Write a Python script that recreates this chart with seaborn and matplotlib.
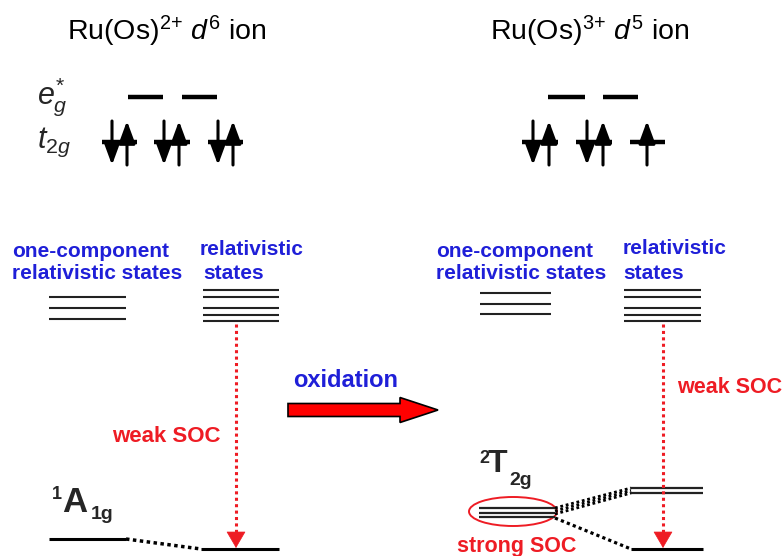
import matplotlib
matplotlib.use("Agg")
import matplotlib.pyplot as plt
from matplotlib.patches import Ellipse, FancyArrow
import seaborn as sns

sns.set_theme(style="white")
plt.rcParams['font.family'] = ['Liberation Sans', 'DejaVu Sans']
plt.rcParams['mathtext.fontset'] = 'custom'
plt.rcParams['mathtext.rm'] = 'Liberation Sans'
plt.rcParams['mathtext.it'] = 'Liberation Sans:italic'
plt.rcParams['mathtext.bf'] = 'Liberation Sans:bold'

# ---------------- data (diagram levels, in image pixel units) ----------------
titles = [r"Ru(Os)$^{2{+}}$ $d^{6}$ ion", r"Ru(Os)$^{3{+}}$ $d^{5}$ ion"]
title_x = [67, 490]

eg_left = [(128, 163), (182, 217)]
t2g_left = [(102, 137), (154, 190), (208, 243)]
down_left = [112, 164, 218]
up_left = [127, 179, 233]

eg_right = [(548, 585), (603, 638)]
t2g_right = [(522, 558), (576, 612), (630, 665)]
down_right = [533, 587]
up_right = [549, 603, 647]

eg_y = 97
t2g_y = 142

onecomp_levels_left = [297, 308, 319]
onecomp_levels_right = [293, 304, 314]
rel_levels = [290, 297, 308, 315, 321]

ground_left = 539      # 1A1g one-component
ground_left_rel = 549  # relativistic ground
t2g_levels = [508, 512.5, 517]   # 2T2g one-component
split_upper = [488, 493]
split_lower = 549

blue = "#1f1fd8"
red = "#ee1c24"

fig = plt.figure(figsize=(7.82, 5.56), dpi=100)
ax = fig.add_axes([0, 0, 1, 1])
ax.set_xlim(0, 782)
ax.set_ylim(556, 0)
ax.axis("off")

# titles
for t, x in zip(titles, title_x):
    ax.text(x, 40, t, fontsize=20.5, ha="left", va="baseline", color="black")

ax.text(37, 103, r"$e_g^{*}$", fontsize=22, ha="left", va="baseline")
ax.text(37, 148, r"$t_{2g}$", fontsize=22, ha="left", va="baseline")

# orbital bars
for segs, y in [(eg_left, eg_y), (t2g_left, t2g_y), (eg_right, eg_y), (t2g_right, t2g_y)]:
    for x0, x1 in segs:
        ax.hlines(y, x0, x1, color="black", lw=3.2)

def electron(x, up):
    y_top, y_bot = 121, 165
    tip, tail = ((x, y_top), (x, y_bot)) if up else ((x, y_bot), (x, y_top))
    ax.annotate("", xy=tip, xytext=tail,
                arrowprops=dict(arrowstyle="-|>,head_length=0.68,head_width=0.25",
                                mutation_scale=20, lw=2.2, color="black",
                                shrinkA=0, shrinkB=0))

for x in down_left + down_right:
    electron(x, False)
for x in up_left + up_right:
    electron(x, True)

# blue labels
bt = dict(fontsize=15, fontweight="bold", color=blue, ha="left", va="baseline")
ax.text(12, 257, "one-component", **bt)
ax.text(12, 279, "relativistic states", **bt)
ax.text(200, 255, "relativistic", **bt)
ax.text(203, 279, "states", **bt)
ax.text(436, 257, "one-component", **bt)
ax.text(436, 279, "relativistic states", **bt)
ax.text(623, 254, "relativistic", **bt)
ax.text(623, 279, "states", **bt)

# level manifolds
for y in onecomp_levels_left:
    ax.hlines(y, 49, 126, color="#222222", lw=1.5)
for y in rel_levels:
    ax.hlines(y, 203, 279, color="#222222", lw=1.5)
for y in onecomp_levels_right:
    ax.hlines(y, 480, 551, color="#222222", lw=1.5)
for y in rel_levels:
    ax.hlines(y, 624, 701, color="#222222", lw=1.5)

# ground levels left
ax.hlines(ground_left, 49, 126, color="black", lw=2.2)
ax.hlines(ground_left_rel, 201, 279, color="black", lw=2.2)
ax.plot([126, 201], [ground_left, ground_left_rel], color="black", lw=2.5,
        linestyle=(0, (1, 1)))

# right states
for y in t2g_levels:
    ax.hlines(y, 479, 555, color="#222222", lw=1.6)
for y in split_upper:
    ax.hlines(y, 631, 703, color="#222222", lw=1.6)
ax.hlines(split_lower, 631, 703, color="black", lw=2.2)
for y0, y1 in zip([508, 511, 514], [488, 490.5, 493]):
    ax.plot([555, 631], [y0, y1], color="black", lw=2.0, linestyle=(0, (1, 1)))
ax.plot([555, 631], [518, split_lower], color="black", lw=2.3, linestyle=(0, (1, 1)))

ax.add_patch(Ellipse((513, 511.5), 88, 29, fill=False, ec=red, lw=1.4))

# red dotted SOC arrows
for x in [236, 663]:
    ax.plot([x, x], [324, 538], color=red, lw=2.2, linestyle=(0, (1, 1.1)))
    ax.annotate("", xy=(x, 548), xytext=(x, 536),
                arrowprops=dict(arrowstyle="-|>,head_length=0.55,head_width=0.32",
                                mutation_scale=20, lw=0.5, color=red,
                                shrinkA=0, shrinkB=0))

rt = dict(fontsize=15.5, fontweight="bold", color=red, ha="left", va="baseline")
ax.text(112, 442, "weak SOC", fontsize=16, fontweight="bold", color=red,
        ha="left", va="baseline")
ax.text(677, 393, "weak SOC", **rt)
ax.text(457, 552, "strong SOC", **rt)

# oxidation arrow
ax.text(293, 387, "oxidation", fontsize=17, fontweight="bold", color=blue,
        ha="left", va="baseline")
ax.add_patch(FancyArrow(288, 410, 150, 0, width=13, head_width=25, head_length=38,
                        length_includes_head=True, fc="#ff0000", ec="black", lw=1.2))

# term symbols
ax.text(52, 499, "1", fontsize=13, fontweight="bold", ha="left", va="baseline")
ax.text(62, 512, "A", fontsize=25, fontweight="bold", ha="left", va="baseline")
ax.text(91, 519, "1g", fontsize=14, fontweight="bold", ha="left", va="baseline")
ax.text(479, 463, "2", fontsize=13, fontweight="bold", ha="left", va="baseline")
ax.text(488, 472, "T", fontsize=23, fontweight="bold", ha="left", va="baseline")
ax.text(509, 485, "2g", fontsize=14, fontweight="bold", ha="left", va="baseline")

fig.savefig("out.png", dpi=100)
